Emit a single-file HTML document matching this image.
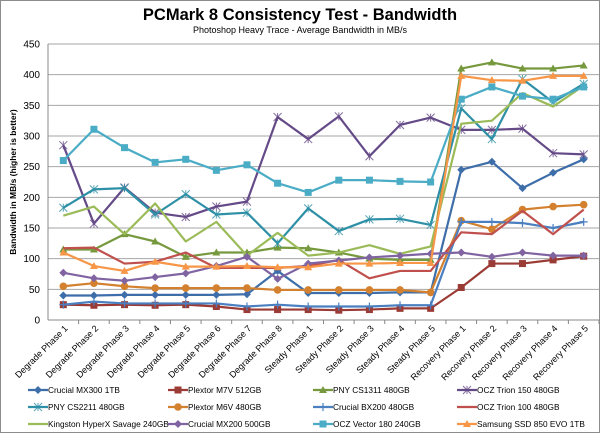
<!DOCTYPE html>
<html><head><meta charset="utf-8"><style>
body{margin:0;background:#fff}
svg{display:block;font-family:"Liberation Sans",sans-serif}
</style></head><body>
<svg id="c" width="600" height="433" xmlns="http://www.w3.org/2000/svg"></svg>
<script>
const s=document.getElementById('c');
let h='<rect x="0.5" y="0.5" width="599" height="432" fill="#fff" stroke="#8c8c8c"/>';
const X0=48,X1=599,Y0=320,k=(320-44)/450;
const y=v=>Y0-v*k, st=(X1-X0)/18, x=i=>X0+st*(i+0.5);
for(let v=50;v<=450;v+=50)h+=`<line x1="${X0}" x2="${X1}" y1="${y(v)}" y2="${y(v)}" stroke="#a6a6a6" stroke-width="1"/>`;
for(let v=0;v<=450;v+=50)h+=`<text x="${X0-8}" y="${y(v)+3.5}" font-size="10" text-anchor="end" fill="#000">${v}</text>`;
h+=`<line x1="${X0}" x2="${X0}" y1="44" y2="${Y0}" stroke="#888"/><line x1="${X0}" x2="${X1}" y1="${Y0}" y2="${Y0}" stroke="#888"/>`;
const cats=[];for(let i=1;i<=8;i++)cats.push('Degrade Phase '+i);for(let i=1;i<=5;i++)cats.push('Steady Phase '+i);for(let i=1;i<=5;i++)cats.push('Recovery Phase '+i);
cats.forEach((c,i)=>{h+=`<line x1="${X0+st*(i+1)}" x2="${X0+st*(i+1)}" y1="${Y0}" y2="${Y0+4}" stroke="#888"/>`;h+=`<text transform="translate(${x(i)+5},${Y0+9}) rotate(-45)" font-size="9" text-anchor="end">${c}</text>`;});
h+=`<text x="300" y="20" font-size="16.5" font-weight="bold" text-anchor="middle">PCMark 8 Consistency Test - Bandwidth</text>`;
h+=`<text x="300" y="33" font-size="9" text-anchor="middle">Photoshop Heavy Trace - Average Bandwidth  in MB/s</text>`;
h+=`<text transform="translate(16,182) rotate(-90)" font-size="8.5" font-weight="bold" text-anchor="middle">Bandwidth in MB/s (higher is better)</text>`;
const S=[
["Crucial MX300 1TB","#3e6ea9","d",[40,40,41,41,41,41,42,80,44,44,44,45,45,245,258,215,240,262]],
["Plextor M7V 512GB","#9b3b36","s",[25,24,25,24,25,22,17,17,17,16,17,19,19,53,92,92,98,104]],
["PNY CS1311 480GB","#77993e","t",[115,115,140,128,103,110,110,118,117,110,100,98,98,410,420,410,410,415]],
["OCZ Trion 150 480GB","#654a88","x",[285,157,216,175,168,185,193,331,295,332,267,318,330,310,310,312,272,270]],
["PNY CS2211 480GB","#2e90a6","x",[183,213,215,172,205,172,175,125,182,145,164,165,155,345,295,393,355,385]],
["Plextor M6V 480GB","#d3802f","o",[55,60,55,52,52,52,52,49,49,49,49,49,45,162,148,180,185,188]],
["Crucial BX200 480GB","#4a7fc0","p",[25,30,27,27,27,27,22,25,22,22,22,24,24,160,160,158,150,160]],
["OCZ Trion 100 480GB","#c0504d","n",[117,118,92,95,110,85,85,85,88,98,68,80,80,143,140,178,140,180]],
["Kingston HyperX Savage 240GB","#9bbb59","n",[170,185,140,190,128,160,105,142,105,110,122,108,120,320,325,370,348,382]],
["Crucial MX200 500GB","#8064a2","d",[77,68,64,70,76,88,103,67,92,97,102,105,108,110,103,110,105,105]],
["OCZ Vector 180 240GB","#4bacc6","s",[260,311,281,257,262,244,253,223,208,228,228,226,225,360,380,365,360,380]],
["Samsung SSD 850 EVO 1TB","#f79646","t",[110,88,80,95,87,87,88,86,86,92,92,93,93,398,391,390,398,398]]];
function mk(t,cx,cy,c){
 if(t=='d')return `<path d="M${cx} ${cy-4}L${cx+4} ${cy}L${cx} ${cy+4}L${cx-4} ${cy}Z" fill="${c}"/>`;
 if(t=='s')return `<rect x="${cx-3.5}" y="${cy-3.5}" width="7" height="7" fill="${c}"/>`;
 if(t=='t')return `<path d="M${cx} ${cy-4}L${cx+4} ${cy+3}L${cx-4} ${cy+3}Z" fill="${c}"/>`;
 if(t=='o')return `<circle cx="${cx}" cy="${cy}" r="3.8" fill="${c}"/>`;
 if(t=='x')return `<path d="M${cx-4} ${cy-4}L${cx+4} ${cy+4}M${cx+4} ${cy-4}L${cx-4} ${cy+4}M${cx} ${cy-4}V${cy+4}" stroke="${c}" stroke-width="1" opacity=".8"/>`;
 if(t=='p')return `<path d="M${cx-4} ${cy}H${cx+4}M${cx} ${cy-4}V${cy+4}" stroke="${c}" stroke-width="1.2"/>`;
 return '';}
S.forEach(([n,c,t,d])=>{h+=`<polyline fill="none" stroke="${c}" stroke-width="2.2" stroke-linejoin="round" points="${d.map((v,i)=>x(i)+','+y(v)).join(' ')}"/>`;d.forEach((v,i)=>h+=mk(t,x(i),y(v),c));});
const cx=[28,168,313,457],ry=[390,407,424];
S.forEach(([n,c,t],i)=>{const X=cx[i%4],Y=ry[Math.floor(i/4)];h+=`<line x1="${X}" x2="${X+20}" y1="${Y}" y2="${Y}" stroke="${c}" stroke-width="2.2"/>`+mk(t,X+10,Y,c)+`<text x="${X+20}" y="${Y+3}" font-size="8.3">${n}</text>`;});
s.innerHTML=h;
</script>
</body></html>
